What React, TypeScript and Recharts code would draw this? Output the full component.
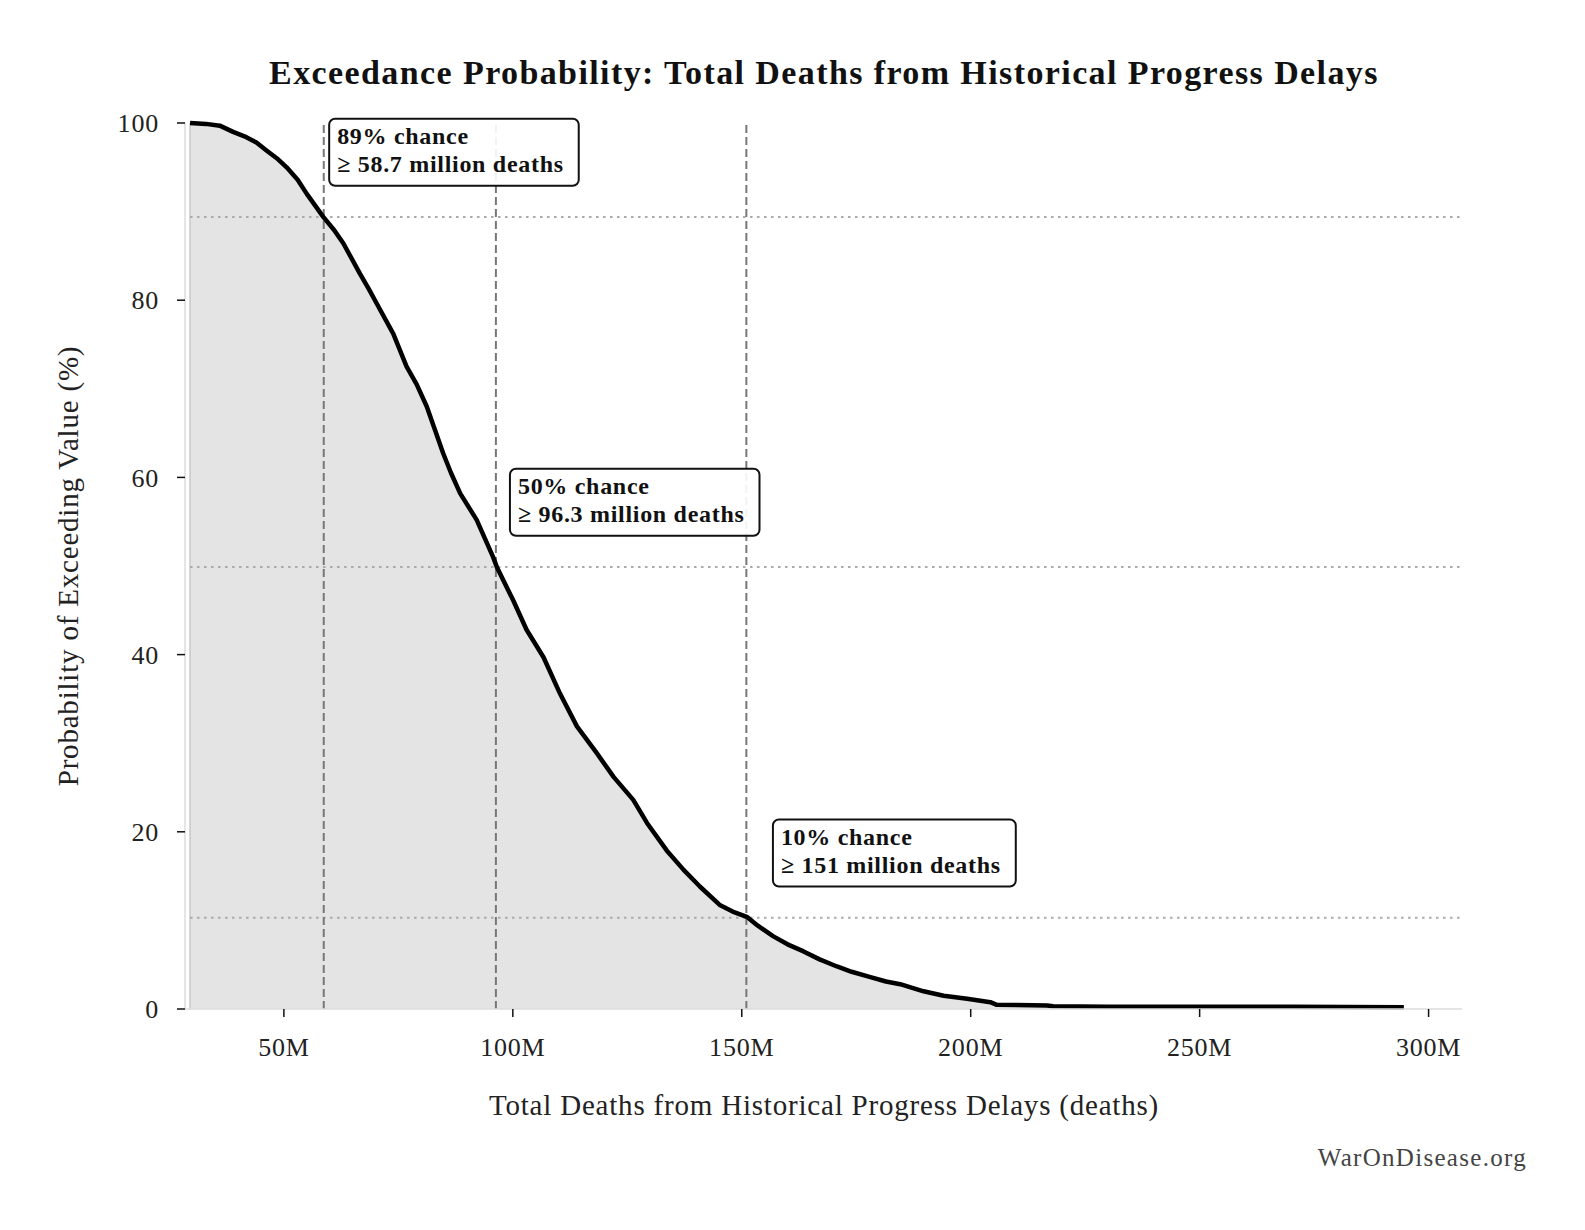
import React from "react";
import {
  Area,
  ComposedChart,
  Line,
  ReferenceDot,
  ReferenceLine,
  XAxis,
  YAxis,
} from "recharts";

// total deaths (millions) and probability of exceeding that value (%)
const deaths = [
  29.5, 33, 36.0, 38.9, 41.8, 44, 46.2, 48.5, 50.6, 53, 55.0, 58.6, 61, 63.0,
  66.6, 68.5, 70.3, 73.9, 76.8, 79, 81.2, 84.8, 86.5, 88.5, 92.1, 95.7, 96.5,
  100.1, 103.0, 106.7, 110.3, 114.0, 118.3, 122.0, 126.3, 129.3, 133.6, 137.3,
  140.9, 145.3, 148, 151.1, 153.5, 156.9, 160, 163.5, 167, 170.8, 174, 178.1,
  181.5, 184.6, 189.7, 194.1, 199.2, 204.3, 205.7, 210, 216.7, 218, 230, 250,
  270, 294.6,
];
const exceedPct = [
  100, 99.9, 99.7, 99.0, 98.4, 97.8, 96.9, 96.0, 95.0, 93.6, 92.0, 89.4, 87.9,
  86.4, 83.0, 81.3, 79.6, 76.2, 72.5, 70.5, 68.0, 62.7, 60.5, 58.2, 55.2, 51.0,
  49.9, 46.1, 42.8, 39.7, 35.6, 31.9, 28.9, 26.2, 23.6, 21.0, 17.9, 15.7, 13.8,
  11.7, 11.0, 10.4, 9.4, 8.2, 7.3, 6.5, 5.6, 4.8, 4.2, 3.6, 3.1, 2.8, 2.0, 1.5,
  1.15, 0.77, 0.47, 0.45, 0.4, 0.3, 0.25, 0.25, 0.25, 0.2,
];

// marked percentiles
const markChance = [89, 50, 10];
const markPct = [89.4, 49.9, 10.3];
const markDeaths = [58.7, 96.3, 151];
const markLabel = ["58.7 million", "96.3 million", "151 million"];

const xTicks = [50, 100, 150, 200, 250, 300];
const yTicks = [0, 20, 40, 60, 80, 100];

const X_DOMAIN: [number, number] = [28.4, 307.3];
const FONT = "'Liberation Serif', 'Times New Roman', serif";

const data = deaths.map((d, i) => ({ deaths: d, pct: exceedPct[i] }));

let measureCtx: CanvasRenderingContext2D | null = null;
function textWidth(s: string, font: string, spacing: number) {
  if (!measureCtx) measureCtx = document.createElement("canvas").getContext("2d");
  if (!measureCtx) return s.length * 12;
  measureCtx.font = font;
  return measureCtx.measureText(s).width + s.length * spacing;
}

function NoteBox({ cx, cy, line1, line2 }: any) {
  if (cx == null || cy == null) return null;
  const fs = 24;
  const ls = 0.7;
  const font = `bold ${fs}px ${FONT}`;
  const w = Math.max(textWidth(line1, font, ls), textWidth(line2, font, ls)) + 23;
  const h = 67;
  const left = cx - 8;
  const top = cy - h / 2;
  const txt = { fontFamily: FONT, fontWeight: "bold", fontSize: fs, letterSpacing: ls, fill: "#111" };
  return (
    <g>
      <rect
        x={left}
        y={top}
        width={w}
        height={h}
        rx={6}
        ry={6}
        fill="#fff"
        fillOpacity={0.9}
        stroke="#111"
        strokeWidth={2}
      />
      <text x={cx} y={top + 25} {...txt}>
        {line1}
      </text>
      <text x={cx} y={top + 53} {...txt}>
        {line2}
      </text>
    </g>
  );
}

const tickStyle = { fill: "#222", fontSize: 26, fontFamily: FONT, letterSpacing: 0.8 };

export default function App() {
  return (
    <div style={{ position: "absolute", left: 0, top: 0, width: 1585, height: 1230, background: "#fff" }}>
      <ComposedChart
        width={1585}
        height={1230}
        data={data}
        margin={{ top: 123, right: 123, bottom: 161, left: 105 }}
      >
        <XAxis
          dataKey="deaths"
          type="number"
          domain={X_DOMAIN}
          allowDataOverflow
          ticks={xTicks}
          tickFormatter={(v) => `${v}M`}
          height={60}
          axisLine={{ stroke: "#dcdcdc", strokeWidth: 1.5 }}
          tickLine={{ stroke: "#111", strokeWidth: 1.5 }}
          tickSize={8}
          tickMargin={21}
          tick={tickStyle}
        />
        <YAxis
          type="number"
          domain={[0, 100]}
          ticks={yTicks}
          width={80}
          axisLine={{ stroke: "#dcdcdc", strokeWidth: 1.5 }}
          tickLine={{ stroke: "#111", strokeWidth: 1.5 }}
          tickSize={8}
          tickMargin={18}
          tick={tickStyle}
        />
        <Area
          dataKey="pct"
          type="linear"
          stroke="none"
          fill="#e4e4e4"
          fillOpacity={1}
          isAnimationActive={false}
        />
        <ReferenceLine x={deaths[0]} stroke="#c8c8c8" strokeWidth={1.5} />
        {markPct.map((p, i) => (
          <ReferenceLine
            key={`h${i}`}
            segment={[
              { x: deaths[0], y: p },
              { x: X_DOMAIN[1], y: p },
            ]}
            stroke="#aaa"
            strokeWidth={2}
            strokeDasharray="2.5 4.5"
          />
        ))}
        {markDeaths.map((d, i) => (
          <ReferenceLine
            key={`v${i}`}
            x={d}
            stroke="#777"
            strokeWidth={2}
            strokeDasharray="8 4"
          />
        ))}
        <Line
          dataKey="pct"
          type="linear"
          stroke="#000"
          strokeWidth={4.5}
          strokeLinejoin="round"
          dot={false}
          activeDot={false}
          isAnimationActive={false}
        />
        {markDeaths.map((d, i) => (
          <ReferenceDot
            key={`n${i}`}
            x={d * 1.05}
            y={markPct[i] + 7.3}
            r={0}
            shape={(p: any) => (
              <NoteBox
                cx={p.cx}
                cy={p.cy}
                line1={`${markChance[i]}% chance`}
                line2={`≥ ${markLabel[i]} deaths`}
              />
            )}
          />
        ))}
      </ComposedChart>
      <svg
        width={1585}
        height={1230}
        style={{ position: "absolute", left: 0, top: 0, pointerEvents: "none" }}
      >
        <text
          x={824}
          y={84}
          textAnchor="middle"
          fontFamily={FONT}
          fontWeight="bold"
          fontSize={34}
          letterSpacing={1.4}
          fill="#111"
        >
          Exceedance Probability: Total Deaths from Historical Progress Delays
        </text>
        <text
          x={824}
          y={1115}
          textAnchor="middle"
          fontFamily={FONT}
          fontSize={29}
          letterSpacing={0.8}
          fill="#222"
        >
          Total Deaths from Historical Progress Delays (deaths)
        </text>
        <text
          x={0}
          y={0}
          transform="translate(78 566) rotate(-90)"
          textAnchor="middle"
          fontFamily={FONT}
          fontSize={29}
          letterSpacing={0.8}
          fill="#222"
        >
          Probability of Exceeding Value (%)
        </text>
        <text
          x={1527}
          y={1166}
          textAnchor="end"
          fontFamily={FONT}
          fontSize={25}
          letterSpacing={1.3}
          fill="#444"
        >
          WarOnDisease.org
        </text>
      </svg>
    </div>
  );
}
